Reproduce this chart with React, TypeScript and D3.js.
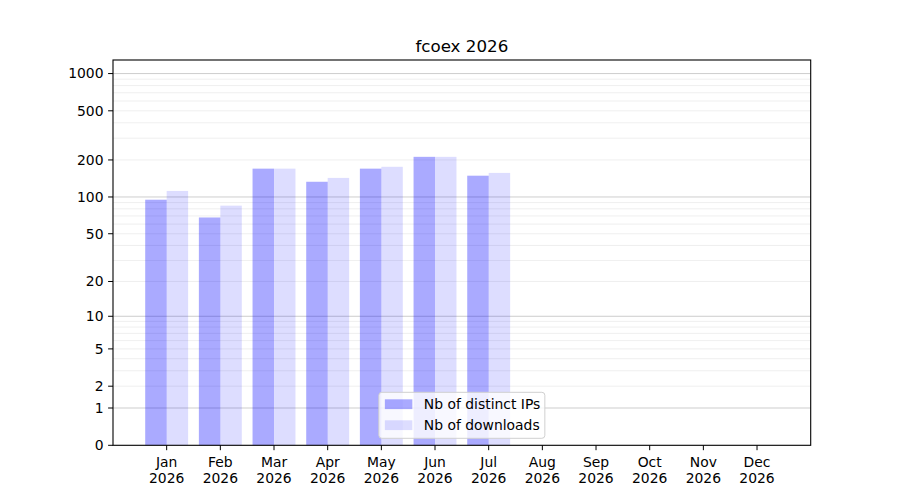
import React from 'react';
import { scaleLinear, scaleSymlog } from 'd3';

const months = ['Jan', 'Feb', 'Mar', 'Apr', 'May', 'Jun', 'Jul', 'Aug', 'Sep', 'Oct', 'Nov', 'Dec'];
const year = '2026';
const distinctIPs = [95, 68, 170, 133, 170, 212, 149];
const downloads = [112, 85, 170, 143, 176, 212, 157];
const yTicks = [0, 1, 2, 5, 10, 20, 50, 100, 200, 500, 1000];
const majorGrid = [1, 10, 100, 1000];
const minorGrid = [2, 3, 4, 5, 6, 7, 8, 9, 20, 30, 40, 50, 60, 70, 80, 90, 200, 300, 400, 500, 600, 700, 800, 900];
const yMax = 1287;
const seriesNames = ['Nb of distinct IPs', 'Nb of downloads'];

const W = 900;
const H = 500;
const plot = { left: 113, right: 810.7, top: 60, bottom: 445.3 };
const font = 'DejaVu Sans, sans-serif';
const colorIPs = 'rgba(0,0,255,0.333)';
const colorDl = 'rgba(0,0,255,0.133)';

const App: React.FC = () => {
    const x = scaleLinear().domain([-1, 12]).range([plot.left, plot.right]);
    const y = scaleSymlog().constant(1).domain([0, yMax]).range([plot.bottom, plot.top]);
    const barW = x(0.4) - x(0);
    const cx = (plot.left + plot.right) / 2;

    // legend geometry (lower center)
    const lgW = 166;
    const lgH = 46;
    const lgX = cx - lgW / 2;
    const lgY = plot.bottom - 7 - lgH;

    return (
        <svg width={W} height={H} style={{ position: 'absolute', left: 0, top: 0, background: '#fff' }}
             fontFamily={font}>
            <rect x={0} y={0} width={W} height={H} fill="#fff" />
            {/* grid */}
            {minorGrid.map(v => (
                <line key={'mi' + v} x1={plot.left} x2={plot.right} y1={y(v)} y2={y(v)}
                      stroke="#ebebeb" strokeWidth={0.8} />
            ))}
            {majorGrid.map(v => (
                <line key={'ma' + v} x1={plot.left} x2={plot.right} y1={y(v)} y2={y(v)}
                      stroke="#c0c0c0" strokeWidth={0.8} />
            ))}
            {/* bars */}
            {distinctIPs.map((v, i) => (
                <rect key={'ip' + i} x={x(i) - barW} width={barW} y={y(v)} height={plot.bottom - y(v)}
                      fill={colorIPs} />
            ))}
            {downloads.map((v, i) => (
                <rect key={'dl' + i} x={x(i)} width={barW} y={y(v)} height={plot.bottom - y(v)}
                      fill={colorDl} />
            ))}
            {/* frame */}
            <rect x={plot.left} y={plot.top} width={plot.right - plot.left} height={plot.bottom - plot.top}
                  fill="none" stroke="#000" strokeWidth={1.1} />
            {/* y axis */}
            {yTicks.map(v => (
                <g key={'yt' + v}>
                    <line x1={plot.left - 4.9} x2={plot.left} y1={y(v)} y2={y(v)} stroke="#000" strokeWidth={1} />
                    <text x={plot.left - 9.5} y={y(v)} dy="0.35em" textAnchor="end" fontSize={13.9} fill="#000">
                        {v}
                    </text>
                </g>
            ))}
            {/* x axis */}
            {months.map((m, i) => (
                <g key={'xt' + m}>
                    <line x1={x(i)} x2={x(i)} y1={plot.bottom} y2={plot.bottom + 4.9} stroke="#000" strokeWidth={1} />
                    <text x={x(i)} y={plot.bottom + 21.5} textAnchor="middle" fontSize={13.9} fill="#000">{m}</text>
                    <text x={x(i)} y={plot.bottom + 38} textAnchor="middle" fontSize={13.9} fill="#000">{year}</text>
                </g>
            ))}
            {/* title */}
            <text x={cx} y={51.5} textAnchor="middle" fontSize={16.7} fill="#000">fcoex 2026</text>
            {/* legend */}
            <g>
                <rect x={lgX} y={lgY} width={lgW} height={lgH} rx={3} fill="rgba(255,255,255,0.8)"
                      stroke="#d0d0d0" strokeWidth={1} />
                {[colorIPs, colorDl].map((c, i) => (
                    <g key={'lg' + i}>
                        <rect x={lgX + 6} y={lgY + 7 + i * 21} width={27.5} height={9.8} fill={c} />
                        <text x={lgX + 45} y={lgY + 12 + i * 21} dy="0.35em" fontSize={13.9} fill="#000">
                            {seriesNames[i]}
                        </text>
                    </g>
                ))}
            </g>
        </svg>
    );
};

export default App;
